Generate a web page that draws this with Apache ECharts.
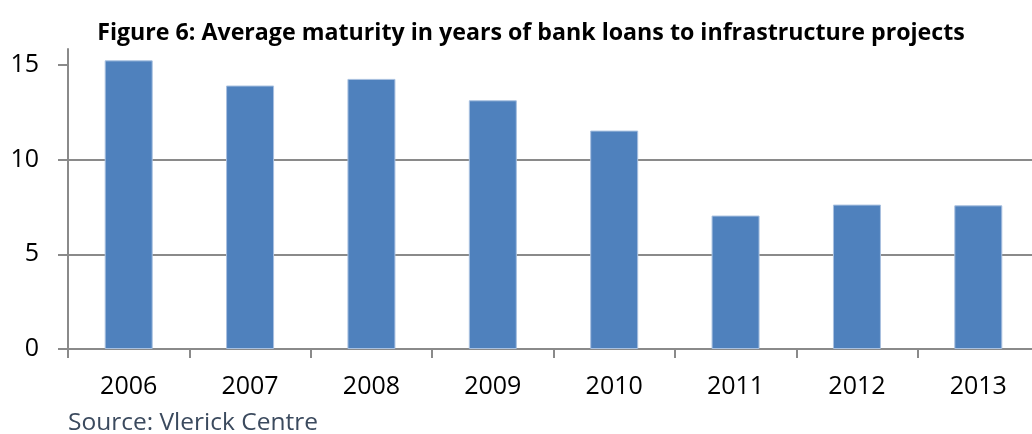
<!DOCTYPE html>
<html>
<head>
<meta charset="utf-8">
<script src="https://cdn.jsdelivr.net/npm/echarts@6/dist/echarts.min.js"></script>
<style>
  html, body { margin: 0; padding: 0; background: #fff; }
  #chart { width: 1032px; height: 434px; }
</style>
</head>
<body>
<div id="chart"></div>
<script>
// data
var years = ['2006', '2007', '2008', '2009', '2010', '2011', '2012', '2013'];
var maturity = [15.25, 13.92, 14.27, 13.14, 11.54, 7.05, 7.63, 7.59];
var yTicks = [0, 5, 10, 15];

var chart = echarts.init(document.getElementById('chart'));
var font = '"Open Sans", "Noto Sans", sans-serif';

chart.setOption({
  animation: false,
  title: [
    {
      text: 'Figure 6: Average maturity in years of bank loans to infrastructure projects',
      left: 531,
      top: 17,
      textAlign: 'center',
      textStyle: { fontFamily: font, fontSize: 23.2, fontWeight: 'bold', color: '#000' }
    },
    {
      text: 'Source: Vlerick Centre',
      left: 63,
      top: 406,
      textStyle: { fontFamily: font, fontSize: 24.5, fontWeight: 'normal', color: '#3b4a5e' }
    }
  ],
  // the original plot runs past the right edge of the picture
  grid: { left: 68, width: 971, top: 49, bottom: 85, containLabel: false, outerBoundsMode: 'none' },
  xAxis: {
    type: 'category',
    data: years,
    axisLine: { lineStyle: { color: '#8a8a8a', width: 2 } },
    axisTick: { show: true, length: 9, lineStyle: { color: '#8a8a8a', width: 2 } },
    axisLabel: { fontFamily: font, fontSize: 25, color: '#000', margin: 25 }
  },
  yAxis: {
    type: 'value',
    min: 0,
    max: 15.85,
    interval: 5,
    axisLine: { show: true, lineStyle: { color: '#8a8a8a', width: 2 } },
    axisTick: { show: true, length: 10, customValues: yTicks, lineStyle: { color: '#8a8a8a', width: 2 } },
    axisLabel: { fontFamily: font, fontSize: 25, color: '#000', margin: 29, customValues: yTicks },
    splitLine: { show: true, showMaxLine: false, lineStyle: { color: '#8a8a8a', width: 2 } }
  },
  series: [
    {
      name: 'Average maturity',
      type: 'bar',
      data: maturity,
      barWidth: 48,
      itemStyle: { color: '#4f81bd', borderColor: '#a9c1e0', borderWidth: 1 }
    }
  ]
});
chart.setOption({ title: [{ left: 526 }] });
</script>
</body>
</html>
